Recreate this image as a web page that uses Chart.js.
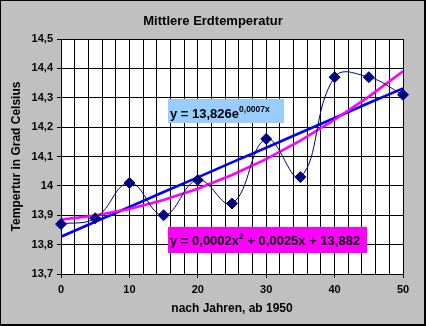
<!DOCTYPE html>
<html><head><meta charset="utf-8">
<script src="https://cdn.jsdelivr.net/npm/chart.js@4.4.1/dist/chart.umd.min.js"></script>
<style>html,body{margin:0;padding:0;background:#c0c0c0}canvas{display:block}</style>
</head><body>
<canvas id="c" width="426" height="326"></canvas>
<script>
// ---- data ----
const years = [0, 5, 10, 15, 20, 25, 30, 35, 40, 45, 50];
const temperatures = [13.87, 13.89, 14.01, 13.90, 14.02, 13.94, 14.16, 14.03, 14.37, 14.37, 14.31];
const expTrend = [13.827, 13.878, 13.928, 13.979, 14.029, 14.080, 14.130, 14.181, 14.231, 14.282, 14.332];
const polyTrend = [13.885, 13.899, 13.921, 13.952, 13.990, 14.037, 14.091, 14.154, 14.225, 14.304, 14.390];
const xLabelValues = [0, 10, 20, 30, 40, 50];
const chartTitle = 'Mittlere Erdtemperatur';
const xTitle = 'nach Jahren, ab 1950';
const yTitle = 'Tempertur in Grad Celsius';
const expEquation = ['y = 13,826e', '0,0007x'];
const polyEquation = ['y = 0,0002x', '2', ' + 0,0025x + 13,882'];

const FONT = '"Liberation Sans", Arial, Helvetica, sans-serif';
Chart.defaults.color = '#000';
Chart.defaults.font.family = FONT;

const pts = arr => years.map((x, i) => ({x: x, y: arr[i]}));

// equation labels, anchored in data coordinates
const labelBoxes = [
  {x0: 15.6, x1: 32.6, yTop: 14.296, yBot: 14.214, bg: '#99ccff', base: 19.3,
   parts: [[expEquation[0], false], [expEquation[1], true]]},
  {x0: 15.6, x1: 44.75, yTop: 13.861, yBot: 13.772, bg: '#ff00ff', base: 18,
   parts: [[polyEquation[0], false], [polyEquation[1], true], [polyEquation[2], false]]}
];

const framePlugin = {
  id: 'frame',
  beforeDraw(chart) {
    const {ctx, chartArea: a} = chart;
    ctx.save();
    ctx.fillStyle = '#c0c0c0';
    ctx.fillRect(0, 0, chart.width, chart.height);
    ctx.fillStyle = '#ffffff';
    ctx.fillRect(a.left, a.top, a.right - a.left, a.bottom - a.top);
    ctx.restore();
  },
  afterDatasetsDraw(chart) {
    const {ctx, scales: {x, y}} = chart;
    ctx.save();
    labelBoxes.forEach(b => {
      const l = Math.round(x.getPixelForValue(b.x0)), r = Math.round(x.getPixelForValue(b.x1));
      const t = Math.round(y.getPixelForValue(b.yTop)), btm = Math.round(y.getPixelForValue(b.yBot));
      ctx.fillStyle = b.bg;
      ctx.fillRect(l, t, r - l, btm - t);
      ctx.fillStyle = '#000';
      ctx.textBaseline = 'alphabetic';
      ctx.textAlign = 'left';
      let cx = l + 2;
      const base = t + b.base;
      b.parts.forEach(([txt, sup]) => {
        ctx.font = sup ? 'bold 8.5px ' + FONT : 'bold 13px ' + FONT;
        ctx.fillText(txt, cx, sup ? base - 6.5 : base);
        cx += ctx.measureText(txt).width;
      });
    });
    ctx.restore();
  },
  afterDraw(chart) {
    const ctx = chart.ctx;
    ctx.save();
    ctx.strokeStyle = '#000';
    ctx.lineWidth = 1;
    ctx.strokeRect(0.5, 0.5, chart.width - 1, chart.height - 1);
    ctx.beginPath();
    ctx.moveTo(chart.width - 1.5, 1); ctx.lineTo(chart.width - 1.5, chart.height - 1);
    ctx.moveTo(1, chart.height - 1.5); ctx.lineTo(chart.width - 1, chart.height - 1.5);
    ctx.stroke();
    ctx.restore();
  }
};

new Chart(document.getElementById('c'), {
  type: 'line',
  data: {
    datasets: [
      {label: 'Temperatur', data: pts(temperatures), borderColor: '#000080', borderWidth: 1,
       backgroundColor: '#000080', pointStyle: 'rectRot', pointRadius: 5.5, pointBorderWidth: 1,
       pointBorderColor: '#000080', pointBackgroundColor: '#000080', tension: 0.42, fill: false,
       clip: false},
      {label: 'Polynom', data: pts(polyTrend), borderColor: '#ff00ff', borderWidth: 2.6,
       pointRadius: 0, tension: 0, fill: false},
      {label: 'Exponentiell', data: pts(expTrend), borderColor: '#0000ff', borderWidth: 2.6,
       pointRadius: 0, tension: 0, fill: false}
    ]
  },
  options: {
    responsive: false,
    animation: false,
    devicePixelRatio: 1,
    layout: {padding: 0},
    plugins: {
      legend: {display: false},
      tooltip: {enabled: false},
      title: {display: true, text: chartTitle, font: {size: 13, weight: 'bold', family: FONT},
              padding: {top: 14, bottom: 9.4}, color: '#000'}
    },
    scales: {
      x: {
        type: 'linear', min: 0, max: 50,
        afterFit: s => { s.height = 52; },
        ticks: {stepSize: 2, autoSkip: false, maxRotation: 0, padding: 5,
                font: {size: 11, weight: 'bold', family: FONT},
                callback: v => xLabelValues.includes(v) ? String(v) : ''},
        grid: {color: '#000', lineWidth: 1, tickLength: 4,
               tickColor: c => (c.tick && xLabelValues.includes(c.tick.value)) ? '#000' : 'rgba(0,0,0,0)'},
        border: {display: true, color: '#000', width: 1},
        title: {display: true, text: xTitle, font: {size: 12, weight: 'bold', family: FONT},
                padding: {top: 0, bottom: 10}}
      },
      y: {
        min: 13.7, max: 14.5,
        afterFit: s => { s.width = 61; },
        ticks: {stepSize: 0.1, padding: 4, font: {size: 11, weight: 'bold', family: FONT},
                callback: v => (Math.round(v * 10) / 10).toString().replace('.', ',')},
        grid: {color: '#000', lineWidth: 1, tickLength: 4, tickColor: '#000'},
        border: {display: true, color: '#000', width: 1},
        title: {display: true, text: yTitle, font: {size: 12, weight: 'bold', family: FONT},
                padding: {top: 9.5, bottom: 0}}
      },
      gap: {
        position: 'right', display: true,
        afterFit: s => { s.width = 23; },
        ticks: {display: false},
        grid: {display: false, drawTicks: false},
        border: {display: false}
      }
    }
  },
  plugins: [framePlugin]
});
</script>
</body></html>
